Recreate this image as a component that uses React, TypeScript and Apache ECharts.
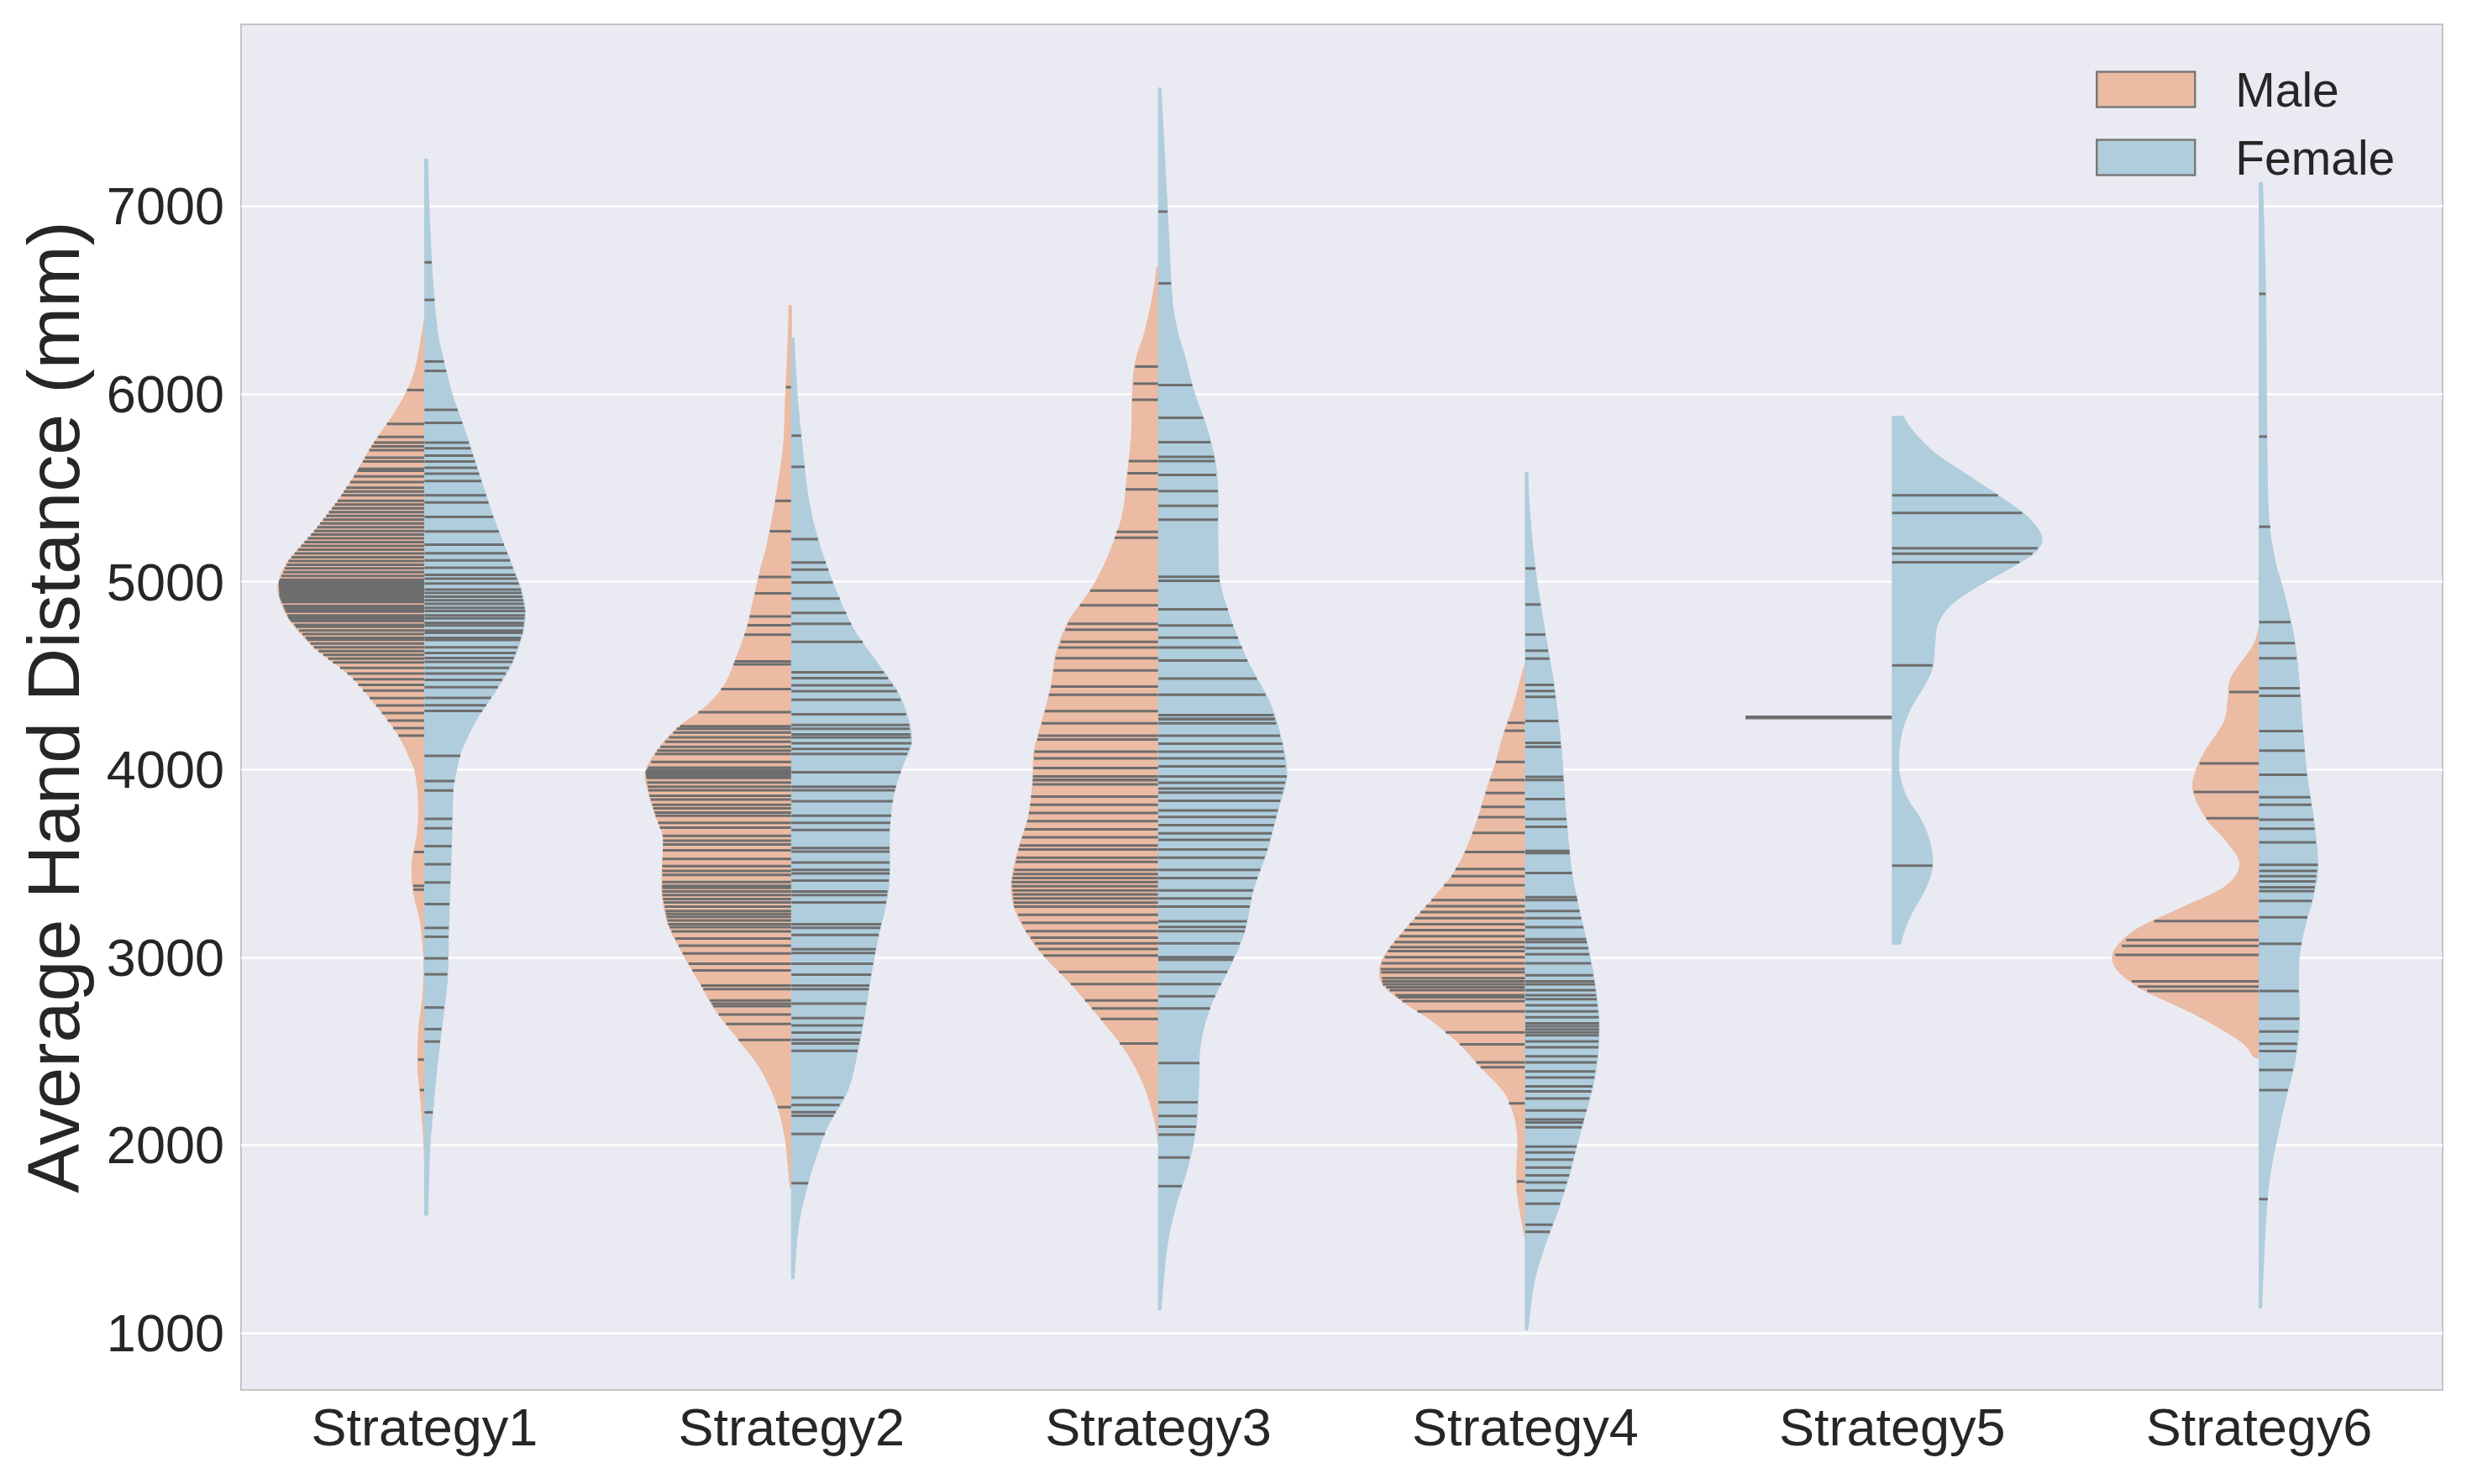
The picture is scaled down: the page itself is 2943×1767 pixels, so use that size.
import React, { useEffect, useRef } from "react";
import * as echarts from "echarts";

const categories = ["Strategy1", "Strategy2", "Strategy3", "Strategy4", "Strategy5", "Strategy6"];
const yMin = 696;
const yMax = 7967;

// density profiles: [value, density] from top to bottom (density units: 175 = widest half)
const s1Male = [[6403,0],[6268,5],[6114,12],[5998,23],[5883,38],[5729,62],[5575,82],[5421,105],[5267,132],[5113,162],[4997,174],[4920,173],[4804,162],[4650,132],[4496,88],[4342,58],[4188,32],[4034,15],[3957,10],[3803,7],[3649,9],[3495,15],[3341,13],[3187,5],[2994,1],[2801,2],[2609,7],[2416,8],[2262,5],[2031,1],[1915,0]];
const s1Female = [[7250,4],[7039,5],[6653,9],[6345,15],[6191,22],[5998,33],[5806,48],[5575,65],[5344,82],[5113,102],[4958,115],[4843,120],[4727,117],[4573,105],[4419,85],[4265,62],[4111,45],[3995,38],[3880,34],[3572,32],[3187,29],[2878,27],[2609,20],[2416,15],[2185,10],[1954,6],[1626,4]];
const s2Male = [[6470,3],[6297,4],[5988,7],[5757,9],[5603,13],[5411,20],[5218,28],[5064,37],[4910,45],[4756,53],[4602,65],[4448,80],[4332,103],[4216,137],[4101,160],[3985,174],[3870,170],[3754,162],[3639,153],[3485,154],[3331,154],[3176,147],[3022,130],[2868,110],[2714,90],[2560,63],[2406,37],[2213,17],[2021,7],[1790,2],[1780,0]];
const s2Female = [[6297,3],[5988,7],[5757,12],[5449,20],[5218,32],[4987,50],[4756,73],[4563,103],[4409,127],[4255,140],[4139,143],[4024,133],[3870,122],[3677,117],[3446,117],[3292,113],[3099,103],[2907,95],[2714,88],[2522,80],[2290,67],[2098,43],[1905,27],[1751,17],[1559,8],[1289,3]];
const s3Male = [[6675,2],[6566,5],[6349,15],[6176,27],[6002,31],[5785,32],[5568,37],[5352,43],[5135,60],[4961,80],[4788,107],[4614,122],[4441,128],[4267,138],[4094,148],[3920,150],[3747,155],[3573,167],[3400,175],[3269,172],[3139,158],[3009,137],[2836,100],[2662,67],[2488,37],[2315,17],[2141,5],[2011,0]];
const s3Female = [[7629,3],[7304,7],[6870,12],[6523,16],[6349,22],[6176,33],[6002,43],[5829,57],[5655,67],[5482,71],[5221,71],[5005,73],[4788,87],[4571,107],[4354,133],[4137,148],[3963,153],[3790,143],[3573,130],[3356,113],[3139,103],[2966,87],[2749,63],[2532,50],[2315,48],[2098,45],[1881,35],[1664,20],[1447,10],[1122,3]];
const s4Male = [[4568,0],[4488,5],[4328,15],[4200,25],[4040,35],[3880,47],[3720,58],[3560,72],[3432,88],[3304,112],[3176,138],[3048,162],[2952,173],[2856,170],[2760,145],[2664,112],[2536,78],[2408,52],[2280,25],[2152,13],[2024,9],[1896,10],[1768,10],[1640,6],[1496,0]];
const s4Female = [[5582,3],[5384,5],[5064,12],[4744,23],[4424,35],[4104,43],[3784,48],[3464,55],[3240,65],[3048,75],[2856,83],[2664,88],[2504,87],[2344,82],[2184,73],[2024,63],[1832,52],[1640,38],[1448,22],[1256,10],[1016,3]];
const s5Male: number[][] = [];
const s5Female = [[5880,13],[5801,25],[5681,52],[5561,92],[5442,132],[5342,162],[5242,178],[5163,172],[5083,145],[4983,105],[4883,72],[4784,55],[4684,51],[4544,48],[4445,38],[4325,22],[4205,12],[4086,8],[3966,9],[3846,18],[3727,35],[3607,45],[3488,48],[3368,40],[3248,25],[3149,15],[3069,10]];
const s6Male = [[4752,0],[4652,8],[4492,33],[4372,37],[4252,42],[4092,65],[3972,77],[3872,78],[3732,62],[3612,38],[3492,23],[3372,42],[3252,98],[3132,152],[2992,175],[2852,148],[2692,75],[2552,22],[2472,7],[2465,0]];
const s6Female = [[7124,4],[6852,6],[6452,8],[5852,9],[5372,11],[5132,18],[4932,30],[4692,42],[4452,48],[4212,52],[3972,57],[3732,65],[3492,70],[3332,65],[3172,55],[3012,48],[2852,47],[2652,48],[2452,43],[2252,32],[2052,22],[1812,12],[1532,7],[1132,3]];

// individual observations (inner="stick")
const s1MaleSticks = [6020,5840,5770,5740,5720,5700,5660,5640,5600,5590,5560,5530,5500,5480,5460,5430,5410,5390,5370,5350,5330,5310,5290,5270,5250,5230,5210,5190,5170,5150,5130,5110,5090,5070,5050,5030,5010,5000,4990,4980,4970,4960,4950,4940,4930,4920,4910,4900,4890,4870,4860,4850,4840,4820,4810,4800,4790,4770,4760,4740,4720,4700,4690,4670,4650,4630,4610,4590,4570,4540,4510,4480,4450,4420,4380,4340,4300,4260,4220,4180,3560,3380,3360,2455,2293];
const s1FemaleSticks = [6700,6500,6172,6122,5914,5845,5740,5710,5671,5640,5606,5575,5536,5459,5421,5344,5267,5197,5151,5113,5074,5036,5016,4990,4958,4940,4920,4900,4881,4860,4843,4820,4804,4780,4766,4740,4727,4700,4689,4650,4620,4593,4573,4540,4510,4477,4438,4381,4342,4311,4072,3938,3888,3737,3687,3591,3495,3398,3283,3156,3109,2994,2909,2732,2617,2551,2174];
const s2MaleSticks = [6035,5430,5268,5025,4937,4814,4767,4717,4575,4560,4428,4305,4230,4216,4196,4170,4147,4120,4100,4082,4040,4010,3997,3990,3985,3975,3966,3955,3930,3908,3889,3860,3840,3812,3793,3770,3754,3716,3690,3646,3620,3600,3569,3523,3485,3460,3438,3400,3380,3369,3350,3331,3310,3292,3270,3246,3230,3215,3196,3176,3160,3138,3100,3061,3020,2965,2930,2849,2830,2770,2753,2740,2695,2645,2560,2202];
const s2FemaleSticks = [5777,5611,5226,5102,5064,4995,4910,4833,4775,4679,4517,4486,4448,4417,4371,4294,4236,4216,4186,4170,4139,4109,4082,3985,3908,3889,3831,3754,3716,3677,3581,3562,3504,3465,3446,3408,3350,3331,3292,3176,3157,3119,3042,3022,2965,2907,2849,2830,2753,2676,2637,2599,2560,2541,2502,2252,2213,2175,2156,2059,1797];
const s3MaleSticks = [6145,6054,5968,5642,5577,5491,5265,5234,4952,4874,4775,4744,4679,4649,4592,4527,4441,4397,4310,4245,4180,4159,4094,4059,4007,3963,3945,3942,3920,3855,3812,3768,3725,3681,3638,3595,3573,3530,3508,3465,3443,3421,3400,3378,3356,3334,3313,3291,3269,3226,3183,3139,3104,3074,3044,3009,2922,2857,2770,2727,2671,2541];
const s3FemaleSticks = [6970,6588,6046,5872,5742,5664,5642,5568,5482,5404,5330,5026,5005,4853,4766,4701,4649,4580,4484,4397,4289,4270,4267,4245,4180,4137,4094,4059,4016,3963,3929,3898,3877,3833,3781,3747,3703,3660,3625,3573,3530,3465,3421,3356,3313,3269,3191,3161,3139,3074,3000,2987,2922,2857,2792,2727,2437,2228,2155,2098,2055,1933,1781];
const s4MaleSticks = [4248,4206,4040,3944,3874,3800,3746,3662,3560,3470,3432,3384,3304,3272,3240,3208,3176,3144,3112,3080,3054,3032,3000,2968,2936,2920,2888,2872,2856,2840,2824,2798,2786,2766,2712,2600,2536,2440,2414,2222,1806];
const s4FemaleSticks = [5070,4878,4718,4632,4590,4450,4418,4386,4258,4142,4120,3960,3944,3842,3736,3694,3566,3554,3448,3320,3304,3246,3208,3160,3096,3080,3048,3016,2968,2904,2872,2856,2824,2798,2776,2744,2712,2680,2648,2632,2616,2600,2584,2552,2520,2472,2440,2392,2360,2312,2286,2248,2184,2136,2120,2094,1992,1960,1922,1880,1838,1800,1758,1688,1576,1538];
const s5MaleSticks = [4277];
const s5FemaleSticks = [5460,5366,5178,5149,5103,4554,3488];
const s6MaleSticks = [4412,4032,3880,3740,3192,3092,3060,3012,2872,2844,2820];
const s6FemaleSticks = [6532,5772,5292,4784,4672,4592,4432,4392,4204,4100,3972,3852,3812,3732,3684,3612,3492,3460,3432,3404,3372,3352,3300,3212,3072,2820,2672,2604,2540,2500,2400,2292,1712];

const maleProfiles = [s1Male, s2Male, s3Male, s4Male, s5Male, s6Male];
const femaleProfiles = [s1Female, s2Female, s3Female, s4Female, s5Female, s6Female];
const maleSticks = [s1MaleSticks, s2MaleSticks, s3MaleSticks, s4MaleSticks, s5MaleSticks, s6MaleSticks];
const femaleSticks = [s1FemaleSticks, s2FemaleSticks, s3FemaleSticks, s4FemaleSticks, s5FemaleSticks, s6FemaleSticks];

const MALE_COLOR = "#EBBBA3";
const FEMALE_COLOR = "#AFCDDD";
const STICK_COLOR = "#6e6e6e";
const DENSITY_MAX = 175;
const HALF_WIDTH = 0.4;

function densityAt(profile: number[][], v: number): number {
  if (!profile.length) return DENSITY_MAX;
  for (let i = 0; i < profile.length - 1; i++) {
    const [v0, d0] = profile[i];
    const [v1, d1] = profile[i + 1];
    if (v <= v0 && v >= v1) {
      const t = v0 === v1 ? 0 : (v0 - v) / (v0 - v1);
      return d0 + (d1 - d0) * t;
    }
  }
  return 0;
}

function catmullRom(pts: number[][], segs: number): number[][] {
  if (pts.length < 3) return pts;
  const out: number[][] = [];
  for (let i = 0; i < pts.length - 1; i++) {
    const p0 = pts[Math.max(0, i - 1)];
    const p1 = pts[i];
    const p2 = pts[i + 1];
    const p3 = pts[Math.min(pts.length - 1, i + 2)];
    for (let s = 0; s < segs; s++) {
      const t = s / segs;
      const t2 = t * t;
      const t3 = t2 * t;
      const f = (a: number, b: number, c: number, d: number) =>
        0.5 * (2 * b + (-a + c) * t + (2 * a - 5 * b + 4 * c - d) * t2 + (-a + 3 * b - 3 * c + d) * t3);
      out.push([f(p0[0], p1[0], p2[0], p3[0]), f(p0[1], p1[1], p2[1], p3[1])]);
    }
  }
  out.push(pts[pts.length - 1]);
  return out;
}

function makeRenderItem(profiles: number[][][], sticks: number[][], side: number, color: string) {
  return (params: any, api: any) => {
    const idx = api.value(0);
    const center = api.coord([idx, yMin])[0];
    const band = api.size([1, 0])[0];
    const scale = (band * HALF_WIDTH) / DENSITY_MAX;
    const prof = profiles[idx];
    const children: any[] = [];
    if (prof.length) {
      const edge = prof.map(([v, d]) => [center + side * d * scale, api.coord([idx, v])[1]]);
      const smooth = catmullRom(edge, 8).map(([x, y]) => [side > 0 ? Math.max(center, x) : Math.min(center, x), y]);
      const pts = [[center, edge[0][1]], ...smooth, [center, edge[edge.length - 1][1]]];
      children.push({ type: "polygon", shape: { points: pts }, style: { fill: color, stroke: color, lineWidth: 1 } });
    }
    sticks[idx].forEach((v) => {
      const y = api.coord([idx, v])[1];
      const len = densityAt(prof, v) * scale;
      children.push({
        type: "line",
        shape: { x1: center, y1: y, x2: center + side * len, y2: y },
        style: { stroke: STICK_COLOR, lineWidth: prof.length ? 3 : 4.5 },
      });
    });
    return { type: "group", children };
  };
}

export default function App() {
  const ref = useRef<HTMLDivElement>(null);
  useEffect(() => {
    document.body.style.margin = "0";
    const chart = echarts.init(ref.current!, null, { renderer: "svg" });
    const font = "Liberation Sans, Arial, sans-serif";
    chart.setOption({
      animation: false,
      backgroundColor: "#ffffff",
      grid: {
        left: 287,
        right: 35,
        top: 29,
        bottom: 112,
        show: true,
        backgroundColor: "#EAEAF2",
        borderColor: "#c4c4c4",
        borderWidth: 2,
      },
      legend: {
        orient: "vertical",
        left: 2495,
        top: 78,
        padding: 0,
        itemWidth: 117,
        itemHeight: 42,
        itemGap: 24,
        data: [
          { name: "Male", icon: "rect", itemStyle: { color: MALE_COLOR, borderColor: "#7a7a7a", borderWidth: 2.5 } },
          { name: "Female", icon: "rect", itemStyle: { color: FEMALE_COLOR, borderColor: "#7a7a7a", borderWidth: 2.5 } },
        ],
        textStyle: { fontFamily: font, fontSize: 57, color: "#262626", lineHeight: 42, padding: [0, 0, 0, 43] },
      },
      xAxis: {
        type: "category",
        data: categories,
        axisLine: { show: false },
        axisTick: { show: false },
        splitLine: { show: false },
        axisLabel: { fontFamily: font, fontSize: 63, color: "#262626", margin: 12 },
      },
      yAxis: {
        type: "value",
        min: yMin,
        max: yMax,
        minInterval: 1000,
        maxInterval: 1000,
        name: "Average Hand Distance (mm)",
        nameLocation: "middle",
        nameGap: 180,
        nameTextStyle: { fontFamily: font, fontSize: 88, color: "#262626" },
        axisLine: { show: false },
        axisTick: { show: false },
        axisLabel: {
          fontFamily: font,
          fontSize: 63,
          color: "#262626",
          margin: 20,
          showMinLabel: false,
          showMaxLabel: false,
          formatter: (v: number) => (v % 1000 === 0 ? String(v) : ""),
        },
        splitLine: { show: true, showMinLine: false, showMaxLine: false, lineStyle: { color: "#ffffff", width: 2.5 } },
      },
      series: [
        {
          name: "Male",
          type: "custom",
          itemStyle: { color: MALE_COLOR },
          renderItem: makeRenderItem(maleProfiles, maleSticks, -1, MALE_COLOR),
          data: categories.map((_, i) => [i, maleProfiles[i].length ? maleProfiles[i][0][0] : maleSticks[i][0]]),
          encode: { x: 0, y: 1 },
          clip: true,
        },
        {
          name: "Female",
          type: "custom",
          itemStyle: { color: FEMALE_COLOR },
          renderItem: makeRenderItem(femaleProfiles, femaleSticks, 1, FEMALE_COLOR),
          data: categories.map((_, i) => [i, femaleProfiles[i][0][0]]),
          encode: { x: 0, y: 1 },
          clip: true,
        },
      ],
    });
    return () => chart.dispose();
  }, []);
  return <div ref={ref} style={{ width: 2943, height: 1767 }} />;
}
